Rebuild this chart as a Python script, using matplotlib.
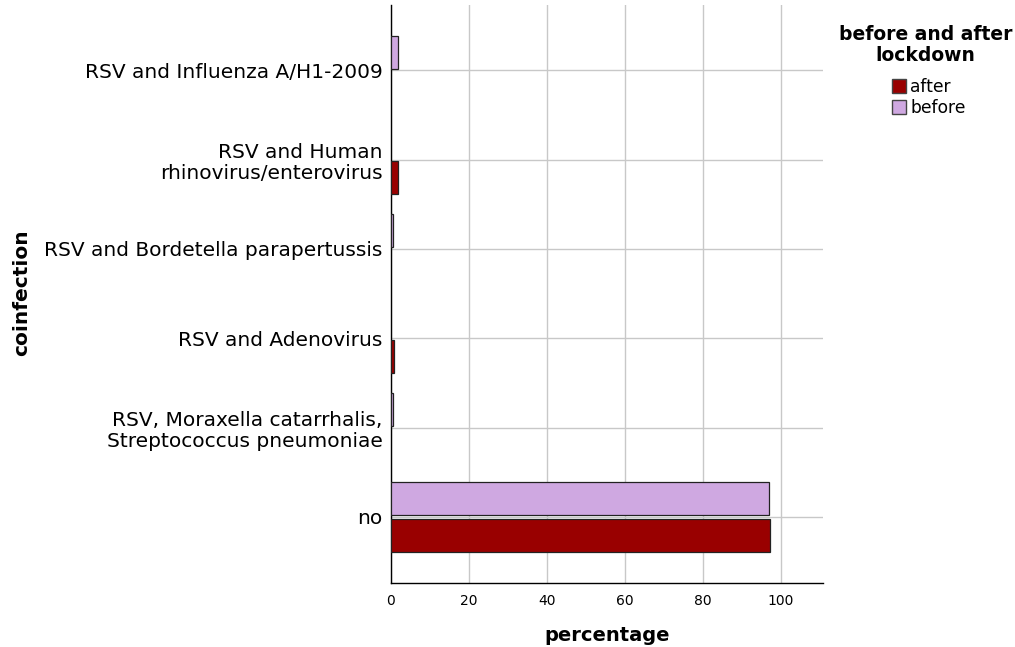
import matplotlib
matplotlib.use("Agg")
import matplotlib.pyplot as plt
import numpy as np
from matplotlib.patches import Patch

categories = ["no",
              "RSV, Moraxella catarrhalis,\nStreptococcus pneumoniae",
              "RSV and Adenovirus",
              "RSV and Bordetella parapertussis",
              "RSV and Human\nrhinovirus/enterovirus",
              "RSV and Influenza A/H1-2009"]
before = [96.9, 0.6, 0.0, 0.6, 0.0, 1.8]
after = [97.3, 0.0, 0.7, 0.0, 1.8, 0.0]
xticks = [0, 20, 40, 60, 80, 100]

c_after = "#990000"
c_before = "#CFA8E1"

plt.rcParams['font.family'] = ['DejaVu Sans']
fig = plt.figure(figsize=(10.15, 6.47), dpi=100)
ax = fig.add_axes([0.385, 0.099, 0.426, 0.893])

y = np.arange(len(categories))
b = np.array(before)
a = np.array(after)
mb = b > 0
ma = a > 0
h = 0.37
ax.barh(y[mb] + 0.205, b[mb], height=h, color=c_before, edgecolor="#222222", linewidth=0.9, zorder=3)
ax.barh(y[ma] - 0.205, a[ma], height=h, color=c_after, edgecolor="#222222", linewidth=0.9, zorder=3)

ax.set_xlim(0, 110.8)
ax.set_ylim(-0.74, 5.73)
ax.set_xticks(xticks)
ax.set_xticklabels([str(t) for t in xticks], fontsize=10)
ax.set_yticks(y)
ax.set_yticklabels(categories, fontsize=14.5, linespacing=1.15)
ax.tick_params(axis='both', length=0)
ax.tick_params(axis='y', pad=6)
ax.tick_params(axis='x', pad=8)
ax.grid(True, color="#c8c8c8", linewidth=1.0, zorder=0)
for s in ["top", "right"]:
    ax.spines[s].set_visible(False)
for s in ["left", "bottom"]:
    ax.spines[s].set_color("black")
    ax.spines[s].set_linewidth(1.0)

ax.set_xlabel("percentage", fontsize=14, fontweight="bold", labelpad=13)
fig.text(0.012, 0.547, "coinfection", rotation=90, fontsize=14.5, fontweight="bold",
         ha="left", va="center")

fig.text(0.912, 0.962, "before and after\nlockdown", fontsize=13.5, fontweight="bold",
         ha="center", va="top", multialignment="center", linespacing=1.15)
handles = [Patch(facecolor=c_after, edgecolor="#444444", label="after"),
           Patch(facecolor=c_before, edgecolor="#444444", label="before")]
leg = fig.legend(handles=handles, loc="upper center",
                 bbox_to_anchor=(0.915, 0.893), frameon=False, fontsize=12.3,
                 handlelength=0.85, handleheight=0.85, handletextpad=0.25,
                 labelspacing=0.2, borderpad=0)

fig.savefig("out.png", dpi=100)
